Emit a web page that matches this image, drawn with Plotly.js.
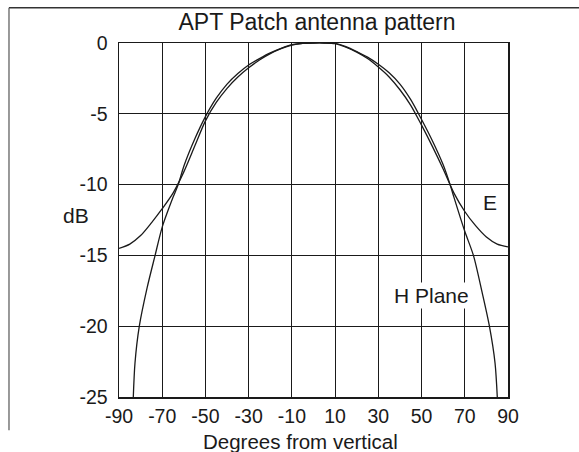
<!DOCTYPE html>
<html>
<head>
<meta charset="utf-8">
<script src="https://cdn.plot.ly/plotly-3.0.1.min.js"></script>
<style>
  html, body { margin: 0; padding: 0; background: #ffffff; }
  #chart { width: 579px; height: 452px; }
</style>
</head>
<body>
<div id="chart"></div>
<script>
// ---- Data ----
const eDeg = [-90, -85, -80, -75, -70, -65, -60, -55, -50, -45, -40, -35, -30, -25, -20, -15, -10, -5, 0, 5, 10, 15, 20, 25, 30, 35, 40, 45, 50, 55, 60, 65, 70, 75, 80, 85, 90];
const eDb  = [-14.5, -14.2, -13.6, -12.7, -11.7, -10.6, -9.1, -7.3, -5.5, -4.2, -3.2, -2.4, -1.75, -1.2, -0.75, -0.4, -0.15, -0.03, 0, 0, -0.05, -0.3, -0.65, -1.1, -1.7, -2.4, -3.3, -4.4, -5.8, -7.3, -8.9, -10.6, -11.9, -12.9, -13.7, -14.2, -14.4];

const hDeg = [-83.5, -82.6, -80.6, -77, -73.3, -70, -65, -62.6, -60, -55, -50, -45, -40, -35, -30, -25, -20, -15, -10, -5, 0, 5, 10, 15, 20, 25, 30, 35, 40, 45, 50, 55, 60, 63.2, 65, 70, 74, 78, 81.4, 84, 85.2];
const hDb  = [-25.5, -22.6, -20, -17.3, -15, -13, -10.9, -10, -8.7, -6.8, -5.2, -3.9, -2.9, -2.15, -1.55, -1.1, -0.7, -0.38, -0.12, -0.02, 0, 0, -0.03, -0.25, -0.6, -1.0, -1.5, -2.1, -2.9, -4.0, -5.4, -6.9, -8.6, -10, -10.9, -13.3, -15, -17.6, -20, -22.6, -25.5];

const xTickVals = [-90, -70, -50, -30, -10, 10, 30, 50, 70, 90];
const xTickText = ["-90", "-70", "-50", "-30", "-10", "10", "30", "50", "70", "90"];
const yTickVals = [0, -5, -10, -15, -20, -25];
const yTickText = ["0", "-5", "-10", "-15", "-20", "-25"];

const titleText = "APT Patch antenna pattern";
const xTitleText = "Degrees from vertical";
const yTitleText = "dB";
const eLabel = "E";
const hLabel = "H Plane";

// ---- Chart ----
const ink = "#1a1a1a";
const fontFamily = "Liberation Sans, Arial, Helvetica, sans-serif";

const traces = [
  { x: eDeg, y: eDb, type: "scatter", mode: "lines", name: eLabel,
    line: { color: ink, width: 1.3, shape: "spline", smoothing: 0.8 }, hoverinfo: "skip" },
  { x: hDeg, y: hDb, type: "scatter", mode: "lines", name: hLabel,
    line: { color: ink, width: 1.3, shape: "spline", smoothing: 0.8 }, hoverinfo: "skip" }
];

const axisCommon = {
  showgrid: true, gridcolor: ink, gridwidth: 1,
  showline: true, mirror: true, linecolor: ink, linewidth: 1.5,
  zeroline: false, ticks: "", fixedrange: true,
  tickfont: { family: fontFamily, size: 19.5, color: ink }
};

const layout = {
  width: 579, height: 452,
  margin: { l: 119, r: 71, t: 43, b: 55, pad: 0 },
  paper_bgcolor: "#ffffff", plot_bgcolor: "#ffffff",
  showlegend: false,
  font: { family: fontFamily, color: ink },
  title: { text: titleText, font: { family: fontFamily, size: 23, color: ink },
           x: 0.5475, xanchor: "center", xref: "container",
           y: 0.951, yanchor: "middle", yref: "container" },
  xaxis: Object.assign({}, axisCommon, {
    range: [-90, 90], tickmode: "array", tickvals: xTickVals, ticktext: xTickText,
    ticklabelstandoff: 1
  }),
  yaxis: Object.assign({}, axisCommon, {
    range: [-25, 0], tickmode: "array", tickvals: yTickVals, ticktext: yTickText,
    ticklabelstandoff: 6
  }),
  annotations: [
    { text: yTitleText, xref: "paper", yref: "paper", x: -0.1105, y: 0.514,
      xanchor: "center", yanchor: "middle", showarrow: false,
      font: { family: fontFamily, size: 21, color: ink } },
    { text: eLabel, xref: "paper", yref: "paper", x: 0.954, y: 0.5495,
      xanchor: "center", yanchor: "middle", showarrow: false,
      font: { family: fontFamily, size: 21, color: ink } },
    { text: hLabel, xref: "paper", yref: "paper", x: 0.8046, y: 0.2858,
      xanchor: "center", yanchor: "middle", showarrow: false, bgcolor: "#ffffff",
      font: { family: fontFamily, size: 21, color: ink } },
    { text: xTitleText, xref: "paper", yref: "paper", x: 0.4666, y: -0.1245,
      xanchor: "center", yanchor: "middle", showarrow: false,
      font: { family: fontFamily, size: 20.5, color: ink } }
  ],
  shapes: [
    { type: "line", xref: "paper", yref: "paper", x0: -0.2828, x1: 1.19, y0: 1.0999, y1: 1.0999,
      line: { color: "#333333", width: 1.5 } },
    { type: "line", xref: "paper", yref: "paper", x0: -0.2828, x1: -0.2828, y0: 1.0999, y1: -0.0942,
      line: { color: "#555555", width: 1.2 } }
  ]
};

Plotly.newPlot("chart", traces, layout, { staticPlot: true, displayModeBar: false });
</script>
</body>
</html>
